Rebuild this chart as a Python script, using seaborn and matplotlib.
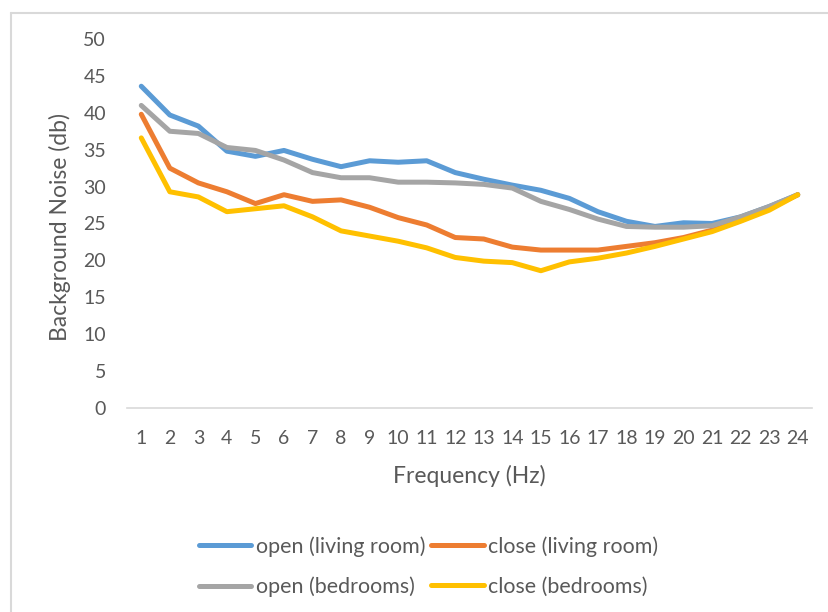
import pandas as pd
import matplotlib.pyplot as plt
import seaborn as sns
from matplotlib.lines import Line2D

# Values
freq = list(range(1, 25))
open_living = [43.6, 39.7, 38.2, 34.8, 34.1, 34.9, 33.7, 32.7, 33.5, 33.3, 33.5, 31.9,
               31.0, 30.2, 29.5, 28.4, 26.6, 25.3, 24.6, 25.1, 25.0, 25.9, 27.3, 28.9]
close_living = [39.8, 32.5, 30.5, 29.3, 27.7, 28.9, 28.0, 28.2, 27.2, 25.8, 24.8, 23.1,
                22.9, 21.8, 21.4, 21.4, 21.4, 21.9, 22.4, 23.1, 24.1, 25.4, 27.0, 28.9]
open_bed = [41.0, 37.5, 37.2, 35.3, 34.9, 33.6, 31.9, 31.2, 31.2, 30.6, 30.6, 30.5,
            30.3, 29.8, 28.0, 26.9, 25.6, 24.6, 24.5, 24.5, 24.7, 25.9, 27.3, 28.9]
close_bed = [36.6, 29.3, 28.6, 26.6, 27.0, 27.4, 25.9, 24.0, 23.3, 22.6, 21.7, 20.4,
             19.9, 19.7, 18.6, 19.8, 20.3, 21.0, 21.9, 22.9, 23.9, 25.3, 26.8, 28.9]

series = ['open (living room)', 'close (living room)', 'open (bedrooms)', 'close (bedrooms)']
colors = ['#5B9BD5', '#ED7D31', '#A5A5A5', '#FFC000']

data = pd.DataFrame({
    'Frequency': freq * 4,
    'Noise': open_living + close_living + open_bed + close_bed,
    'Series': [s for s in series for _ in freq],
})

sns.set_style('white')
plt.rcParams['font.family'] = ['Lato', 'DejaVu Sans']
text_color = '#595959'

fig = plt.figure(figsize=(8.29, 6.12), dpi=100)
ax = fig.add_axes([127 / 829, 1 - 408 / 612, 685 / 829, 369 / 612])

sns.lineplot(data=data, x='Frequency', y='Noise', hue='Series', hue_order=series,
             palette=colors, linewidth=3.6, ax=ax, legend=False)

ax.set_xlim(0.5, 24.5)
ax.set_ylim(0, 50)
ax.set_xticks(freq)
ax.set_yticks(range(0, 51, 5))
ax.tick_params(axis='both', length=0, labelsize=14, labelcolor=text_color)
ax.tick_params(axis='x', pad=16)
ax.tick_params(axis='y', pad=15)

for side in ['top', 'right', 'left']:
    ax.spines[side].set_visible(False)
ax.spines['bottom'].set_color('#D9D9D9')
ax.spines['bottom'].set_linewidth(1.2)

ax.set_xlabel('Frequency (Hz)', fontsize=16.5, color=text_color)
ax.set_ylabel('Background Noise (db)', fontsize=16.5, color=text_color)
ax.xaxis.set_label_coords(0.5, -0.155)
ax.yaxis.set_label_coords(-0.082, 0.49)

# legend: two rows, two columns
handles = [Line2D([], [], color=c, linewidth=3.6, solid_capstyle='round') for c in colors]
order = [0, 2, 1, 3]
fig.legend([handles[i] for i in order], [series[i] for i in order],
           loc='center', bbox_to_anchor=(0.517, 0.074), ncol=2, frameon=False,
           fontsize=15.4, labelcolor=text_color, handlelength=2.45, handletextpad=0.2,
           columnspacing=0.3, labelspacing=0.95)

# chart area outline (left and top edges visible)
border = '#D9D9D9'
fig.add_artist(Line2D([11 / 829, 11 / 829], [0, 1 - 13 / 612], color=border, linewidth=1.5))
fig.add_artist(Line2D([11 / 829, 1], [1 - 13 / 612, 1 - 13 / 612], color=border, linewidth=1.5))

fig.savefig('out.png', dpi=100)
